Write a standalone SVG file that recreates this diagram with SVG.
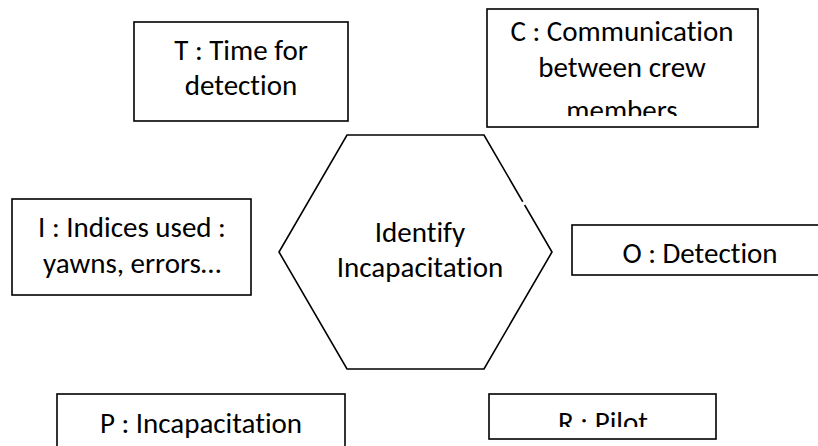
<svg xmlns="http://www.w3.org/2000/svg" width="818" height="446" viewBox="0 0 818 446">
<style>
.box{fill:#fff;stroke:#000;stroke-width:1.6}
.t{font-family:Carlito,Lato,"Liberation Sans",sans-serif;font-size:29px;fill:#000;text-anchor:middle;font-variant-ligatures:none;font-feature-settings:"liga" 0,"clig" 0}
</style>
<defs>
<clipPath id="clipC"><rect x="487" y="9" width="271" height="107"/></clipPath>
<clipPath id="clipR"><rect x="489" y="394" width="227" height="33"/></clipPath>
</defs>
<rect width="818" height="446" fill="#fff"/>
<g id="connectors"></g>
<g id="hex">
<polygon class="box" points="347,135 484,135 552,252 484,369 347,369 279,252"/>
<line x1="522.8" y1="201.8" x2="524.6" y2="204.9" stroke="#fff" stroke-width="3"/>
<text class="t" x="420" y="242">Identify</text>
<text class="t" x="420" y="277">Incapacitation</text>
</g>
<g id="T">
<rect class="box" x="134" y="22" width="214" height="99"/>
<text class="t" x="241" y="60">T : Time for</text>
<text class="t" x="241" y="95">detection</text>
</g>
<g id="C">
<rect class="box" x="487" y="9" width="271" height="118"/>
<g clip-path="url(#clipC)">
<text class="t" x="622" y="41">C : Communication</text>
<text class="t" x="622" y="77">between crew</text>
<text class="t" x="622" y="120">members</text>
</g>
</g>
<g id="I">
<rect class="box" x="12" y="199" width="239" height="96"/>
<text class="t" x="132" y="237">I : Indices used :</text>
<text class="t" x="132" y="273">yawns, errors…</text>
</g>
<g id="O">
<rect class="box" x="572" y="225" width="260" height="50"/>
<text class="t" x="700" y="263">O : Detection</text>
</g>
<g id="P">
<rect class="box" x="57" y="394" width="288" height="60"/>
<text class="t" x="201" y="433">P : Incapacitation</text>
</g>
<g id="R">
<rect class="box" x="489" y="394" width="227" height="45"/>
<g clip-path="url(#clipR)">
<text class="t" x="603" y="432">R : Pilot</text>
</g>
</g>
</svg>
